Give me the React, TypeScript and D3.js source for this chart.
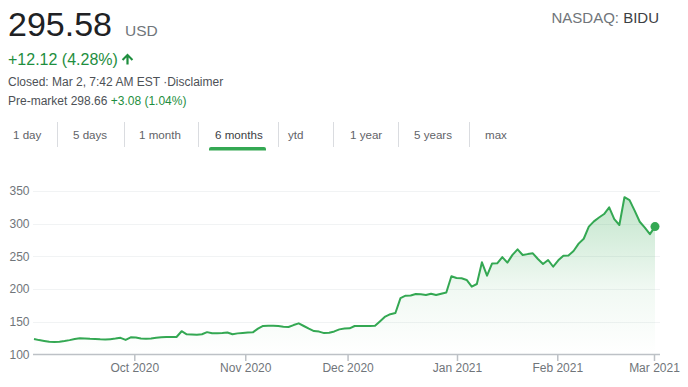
import React from 'react';
import * as d3 from 'd3';

// Daily closes, one per trading day, Sep 2 2020 .. Mar 1 2021
const prices = [
  123.7, 122.0, 120.8, 119.4, 119.1, 119.6, 120.6, 122.0, 123.8, 125.0,
  124.5, 124.0, 123.8, 123.2, 122.8, 123.5, 124.3, 125.5, 122.3, 126.2,
  126.0, 124.4, 124.2, 124.5, 125.6, 126.2, 126.6, 126.8, 126.8, 135.6,
  130.9, 130.6, 130.3, 131.0, 134.2, 132.4, 132.4, 132.8, 133.7, 131.0,
  132.3, 133.0, 133.5, 133.9, 139.5, 143.6, 143.8, 144.0, 143.4, 142.6,
  142.1, 145.0, 147.6, 143.6, 139.5, 135.8, 135.0, 132.7, 133.3, 135.3,
  138.4, 139.6, 140.0, 143.6, 143.6, 143.6, 143.6, 143.8, 151.0, 158.0,
  161.6, 163.5, 186.3, 190.0, 190.3, 192.5, 192.0, 191.1, 193.0, 191.1,
  193.0, 194.9, 219.7, 217.0, 216.5, 214.0, 203.8, 207.8, 241.0, 220.5,
  239.2, 239.5, 249.0, 240.5, 252.3, 260.8, 252.1, 253.5, 254.7, 246.0,
  238.5, 244.5, 234.2, 244.0, 251.1, 251.5, 258.3, 269.5, 277.0, 295.5,
  303.5, 309.5, 314.8, 325.0, 307.0, 298.0, 340.5, 336.0, 320.0, 303.0,
  294.0, 284.0, 295.58,
];

const yTicks = [100, 150, 200, 250, 300, 350];
const monthLabels = ['Oct 2020', 'Nov 2020', 'Dec 2020', 'Jan 2021', 'Feb 2021', 'Mar 2021'];
// month boundaries expressed in trading-day index
const monthTickIndex = [19.8, 41.6, 61.7, 83.2, 102.9, 121.9];

const tabs = ['1 day', '5 days', '1 month', '6 months', 'ytd', '1 year', '5 years', 'max'];
const selectedTab = '6 months';

const price = '295.58';
const currency = 'USD';
const change = '+12.12 (4.28%)';
const closedText = 'Closed: Mar 2, 7:42 AM EST ·Disclaimer';
const preMarketLabel = 'Pre-market 298.66';
const preMarketChange = '+3.08 (1.04%)';
const exchange = 'NASDAQ:';
const ticker = 'BIDU';

// layout
const tabX = [13, 73, 139, 215, 288, 350, 414, 485];
const sepX = [57, 124, 198, 278, 333, 398, 469];
const FONT = '"Liberation Sans", Arial, Helvetica, sans-serif';
const GREEN_LINE = '#34a853';
const GREEN_TEXT = '#1e8e3e';
const GRAY = '#70757a';

export default function App() {
  const W = 688;
  const H = 387;
  const x = d3.scaleLinear().domain([0, prices.length - 1]).range([34, 655]);
  const y = d3.scaleLinear().domain([100, 350]).range([354.5, 191]);

  const line = d3
    .line<number>()
    .x((_, i) => x(i))
    .y((d) => y(d));
  const area = d3
    .area<number>()
    .x((_, i) => x(i))
    .y0(y(100))
    .y1((d) => y(d));

  const last = prices.length - 1;

  return (
    <div style={{ position: 'absolute', left: 0, top: 0 }}>
      <svg width={W} height={H} style={{ display: 'block', background: '#fff' }} fontFamily={FONT}>
        <defs>
          <linearGradient id="fillGrad" gradientUnits="userSpaceOnUse" x1="0" y1={y(350)} x2="0" y2={y(100)}>
            <stop offset="0" stopColor={GREEN_LINE} stopOpacity={0.32} />
            <stop offset="0.6" stopColor={GREEN_LINE} stopOpacity={0.07} />
            <stop offset="1" stopColor={GREEN_LINE} stopOpacity={0} />
          </linearGradient>
        </defs>

        {/* header */}
        <text x={8} y={36} fontSize={34} fill="#202124">{price}</text>
        <text x={125} y={36} fontSize={15.5} fill={GRAY}>{currency}</text>
        <text x={659} y={23} fontSize={15} textAnchor="end">
          <tspan fill={GRAY}>{exchange} </tspan>
          <tspan fill="#3c4043">{ticker}</tspan>
        </text>
        <text x={8} y={65} fontSize={16} fill={GREEN_TEXT}>{change}</text>
        <path
          d="M127.5 53.5 L133.2 59.2 L131.7 60.7 L128.6 57.6 L128.6 64.5 L126.4 64.5 L126.4 57.6 L123.3 60.7 L121.8 59.2 Z"
          fill={GREEN_TEXT}
        />
        <text x={8} y={86} fontSize={12} fill="#4d5156">{closedText}</text>
        <text x={8} y={105} fontSize={12}>
          <tspan fill="#4d5156">{preMarketLabel} </tspan>
          <tspan fill={GREEN_TEXT}>{preMarketChange}</tspan>
        </text>

        {/* tabs */}
        {tabs.map((t, i) => (
          <text key={t} x={tabX[i]} y={139} fontSize={11.6} fill={t === selectedTab ? '#3c4043' : '#5f6368'}>
            {t}
          </text>
        ))}
        {sepX.map((sx, i) => (
          <line key={i} x1={sx + 0.5} x2={sx + 0.5} y1={122} y2={147} stroke="#dadce0" strokeWidth={1} />
        ))}
        <path d="M209 150.5 L209 149 Q209 147 211 147 L264 147 Q266 147 266 149 L266 150.5 Z" fill={GREEN_LINE} />

        {/* grid */}
        {yTicks.slice(1).map((t) => (
          <line key={t} x1={33} x2={660} y1={Math.round(y(t)) + 0.5} y2={Math.round(y(t)) + 0.5} stroke="#f1f3f4" strokeWidth={1} />
        ))}
        {yTicks.map((t) => (
          <text key={t} x={29.5} y={y(t) + 4.3} fontSize={12} fill={GRAY} textAnchor="end">
            {t}
          </text>
        ))}

        {/* area + line */}
        <path d={area(prices) || ''} fill="url(#fillGrad)" />
        <path d={line(prices) || ''} fill="none" stroke={GREEN_LINE} strokeWidth={2} strokeLinejoin="round" />
        <circle cx={x(last)} cy={y(prices[last])} r={4.5} fill={GREEN_LINE} />

        {/* x axis */}
        <line x1={33} x2={660} y1={y(100)} y2={y(100)} stroke="#bdc1c6" strokeWidth={1.5} />
        {monthTickIndex.map((mi, i) => (
          <g key={monthLabels[i]}>
            <line x1={x(mi)} x2={x(mi)} y1={y(100)} y2={y(100) + 6.5} stroke="#bdc1c6" strokeWidth={1.5} />
            <text x={x(mi)} y={372} fontSize={12} fill={GRAY} textAnchor="middle">
              {monthLabels[i]}
            </text>
          </g>
        ))}
      </svg>
    </div>
  );
}
